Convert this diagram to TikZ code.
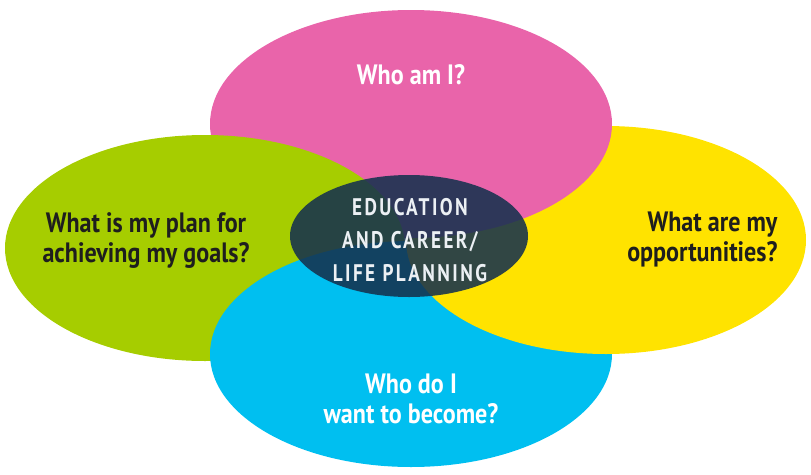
\documentclass[tikz,border=0pt]{standalone}
\usepackage{fontspec}
\setmainfont{PT Sans}
\newfontfamily\askfont[FakeStretch=0.86]{PT Sans}
\newfontfamily\hubfont[FakeStretch=0.8,LetterSpace=10]{PT Sans}

\definecolor{whopink}{RGB}{233,100,170}
\definecolor{plangreen}{RGB}{166,205,0}
\definecolor{oppyellow}{RGB}{255,227,0}
\definecolor{becomeblue}{RGB}{0,191,240}
\definecolor{hubnavy}{RGB}{21,49,78}
\definecolor{askdark}{RGB}{30,30,30}

\begin{document}
\begin{tikzpicture}[x=1pt, y=-1pt,
    ask/.style={font=\askfont\bfseries\fontsize{28}{30}\selectfont, align=center},
    hub/.style={font=\hubfont\bfseries\fontsize{24}{33}\selectfont, align=center, text={rgb,255:red,236;green,240;blue,244}}]
        \useasboundingbox (0,0) rectangle (811,474);
        % petals, back to front
        \fill[oppyellow] (606,240) ellipse [x radius=200, y radius=114];
        \fill[whopink] (411,124) ellipse [x radius=201, y radius=114];
        \fill[plangreen] (205,248) ellipse [x radius=200, y radius=113];
        \fill[becomeblue] (411,354) ellipse [x radius=201, y radius=113];
        % yellow over blue
        \scope
        \clip (411,354) ellipse [x radius=203, y radius=115];
        \fill[oppyellow] (606,240) ellipse [x radius=200, y radius=114];
        \endscope
        % hub
        \fill[hubnavy, fill opacity=0.88] (409,236) ellipse [x radius=119, y radius=61];
        % questions
        \node[ask, text=white] (whoami) at (411,75) {Who am I?};
        \node[ask, text=askdark] (plan) at (146,241) {What is my plan for\\achieving my goals?};
        \node[ask, text=askdark, align=right, anchor=east] (opps) at (781,239) {What are my\\opportunities?};
        \node[ask, text=white] (become) at (411,399) {Who do I\\want to become?};
        \node[hub] (hubtext) at (410,240) {EDUCATION\\AND CAREER/\\LIFE PLANNING};
      \end{tikzpicture}
\end{document}
